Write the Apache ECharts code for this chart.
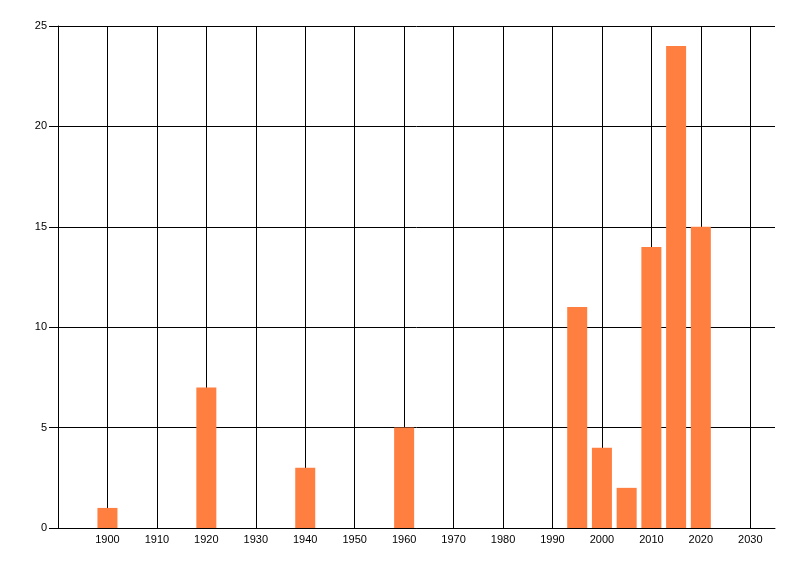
<!DOCTYPE html>
<html>
<head>
<meta charset="utf-8">
<script src="https://cdn.jsdelivr.net/npm/echarts@6/dist/echarts.min.js"></script>
<style>
html,body{margin:0;padding:0;background:#fff;}
#chart{width:800px;height:576px;}
</style>
</head>
<body>
<div id="chart"></div>
<script>
var years = [1900, 1920, 1940, 1960, 1995, 2000, 2005, 2010, 2015, 2020];
var counts = [1, 7, 3, 5, 11, 4, 2, 14, 24, 15];

var chart = echarts.init(document.getElementById('chart'), null, {renderer: 'canvas'});
var data = years.map(function (y, i) { return [y, counts[i]]; });
var font = 'Liberation Sans, Arial, sans-serif';
chart.setOption({
  animation: false,
  backgroundColor: '#ffffff',
  grid: {left: 58, right: 25, top: 26, bottom: 48, containLabel: false},
  xAxis: {
    type: 'value',
    min: 1890,
    max: 2035,
    interval: 10,
    axisLine: {show: true, lineStyle: {color: '#000', width: 1}},
    axisTick: {show: false},
    axisLabel: {
      color: '#000', fontSize: 11, fontFamily: font, margin: 6,
      showMinLabel: false, showMaxLabel: false,
      formatter: function (v) { return (v >= 1900 && v <= 2030) ? String(v) : ''; }
    },
    splitLine: {show: true, showMinLine: true, showMaxLine: false, lineStyle: {color: '#000', width: 1}}
  },
  yAxis: {
    type: 'value',
    min: 0,
    max: 25,
    interval: 5,
    axisLine: {show: true, lineStyle: {color: '#000', width: 1}},
    axisTick: {show: true, length: 9, lineStyle: {color: '#000'}},
    axisLabel: {color: '#000', fontSize: 11, fontFamily: font, margin: 11},
    splitLine: {show: true, lineStyle: {color: '#000', width: 1}}
  },
  series: [{
    type: 'bar',
    data: data,
    barWidth: 20,
    itemStyle: {color: '#ff7f40'}
  }]
});
</script>
</body>
</html>
